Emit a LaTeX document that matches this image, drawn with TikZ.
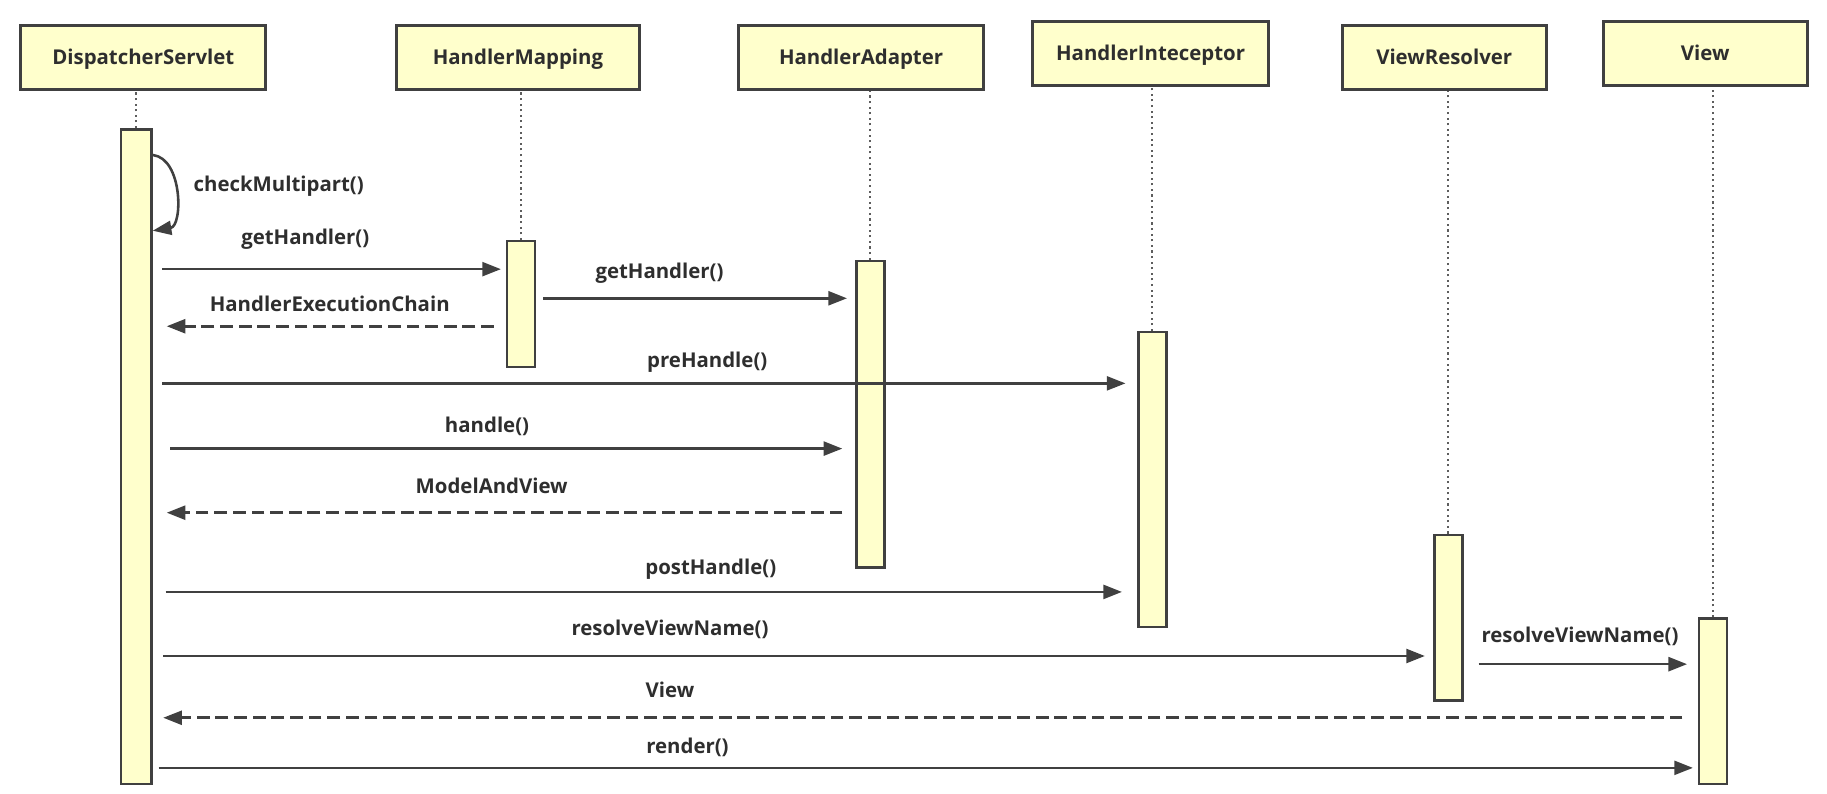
\documentclass[tikz,border=0pt]{standalone}
\usepackage{fontspec}
\setmainfont{Open Sans}
\usetikzlibrary{arrows.meta,calc}
\definecolor{boxfill}{HTML}{FFFFCC}
\definecolor{ink}{HTML}{404040}
\definecolor{txt}{HTML}{2E2E2E}
\begin{document}
\begin{tikzpicture}[x=1pt,y=-1pt,
  every node/.style={font=\fontsize{17.5}{20}\selectfont\bfseries, text=txt, text height=12.5pt, text depth=0pt},
  head/.style={draw=ink, line width=2.6pt, fill=boxfill, minimum width=210pt, minimum height=55pt, inner sep=0pt},
  act/.style={draw=ink, line width=2.2pt, fill=boxfill, minimum width=24pt, inner sep=0pt},
  life/.style={draw=ink!85, line width=1.8pt, dash pattern=on 1.8pt off 3pt},
  msg/.style={draw=ink, line width=2.2pt, -{Triangle[length=16pt,width=12pt]}},
  ret/.style={msg, dash pattern=on 11pt off 5pt},
  lbl/.style={inner sep=0pt}]
\useasboundingbox (0,0) rectangle (1568,681);

% heads
\node[head] (ds) at (123,49.5) {DispatcherServlet};
\node[head, minimum width=209pt] (hm) at (444.5,49.5) {HandlerMapping};
\node[head] (ha) at (739,49.5) {HandlerAdapter};
\node[head, minimum width=203pt] (hi) at (987.5,46) {HandlerInteceptor};
\node[head, minimum width=175pt] (vr) at (1239.5,49.5) {ViewResolver};
\node[head, minimum width=175pt] (vw) at (1463.5,46) {View};

% activations
\node[act, minimum width=26pt, minimum height=562pt] (a1) at (117,392) {};
\node[act, minimum height=108pt] (a2) at (447,261) {};
\node[act, minimum height=263pt] (a3) at (747,355.5) {};
\node[act, minimum height=253pt] (a4) at (989,411.5) {};
\node[act, minimum height=142pt] (a5) at (1243,530) {};
\node[act, minimum height=142pt] (a6) at (1470,602) {};

% lifelines
\draw[life] (a1.north) -- (a1.north |- ds.south);
\draw[life] (a2.north) -- (a2.north |- hm.south);
\draw[life] (a3.north) -- (a3.north |- ha.south);
\draw[life] (a4.north) -- (a4.north |- hi.south);
\draw[life] (a5.north) -- (a5.north |- vr.south);
\draw[life] (a6.north) -- (a6.north |- vw.south);

% rows
\coordinate (r1) at (0,231);
\coordinate (r2) at (0,256);
\coordinate (r3) at (0,280);
\coordinate (r4) at (0,329);
\coordinate (r5) at (0,385);
\coordinate (r6) at (0,440);
\coordinate (r7) at (0,508);
\coordinate (r8) at (0,563);
\coordinate (r9) at (0,570);
\coordinate (r10) at (0,616);
\coordinate (r11) at (0,659);

% self call
\draw[msg] (a1.east |- 0,133) .. controls (157,136) and (157,194) .. (a1.east |- 0,198);
\node[lbl, anchor=west] (lcm) at (166,158) {checkMultipart()};

% messages
\draw[msg] ([xshift=8pt]a1.east |- r1) -- ([xshift=-4pt]a2.west |- r1);
\node[lbl] (l1) at (262,204) {getHandler()};

\draw[msg] ([xshift=6pt]a2.east |- r2) -- ([xshift=-7pt]a3.west |- r2);
\node[lbl] (l2) at (566,233) {getHandler()};

\draw[ret] ([xshift=-10pt]a2.west |- r3) -- ([xshift=12pt]a1.east |- r3);
\node[lbl] (l3) at (283,261) {HandlerExecutionChain};

\draw[msg] ([xshift=8pt]a1.east |- r4) -- ([xshift=-10pt]a4.west |- r4);
\node[lbl] (l4) at (607,309) {preHandle()};

\draw[msg] ([xshift=15pt]a1.east |- r5) -- ([xshift=-11pt]a3.west |- r5);
\node[lbl] (l5) at (418,365) {handle()};

\draw[ret] ([xshift=-11pt]a3.west |- r6) -- ([xshift=12pt]a1.east |- r6);
\node[lbl] (l6) at (422,417) {ModelAndView};

\draw[msg] ([xshift=11pt]a1.east |- r7) -- ([xshift=-13pt]a4.west |- r7);
\node[lbl] (l7) at (610,487) {postHandle()};

\draw[msg] ([xshift=9pt]a1.east |- r8) -- ([xshift=-7pt]a5.west |- r8);
\node[lbl] (l8) at (575,539) {resolveViewName()};

\draw[msg] ([xshift=13pt]a5.east |- r9) -- ([xshift=-9pt]a6.west |- r9);
\node[lbl] (l9) at (1356,545) {resolveViewName()};

\draw[ret] ([xshift=-13pt]a6.west |- r10) -- ([xshift=9pt]a1.east |- r10);
\node[lbl] (l10) at (575,592) {View};

\draw[msg] ([xshift=5pt]a1.east |- r11) -- ([xshift=-4pt]a6.west |- r11);
\node[lbl] (l11) at (590,640) {render()};
\end{tikzpicture}
\end{document}
